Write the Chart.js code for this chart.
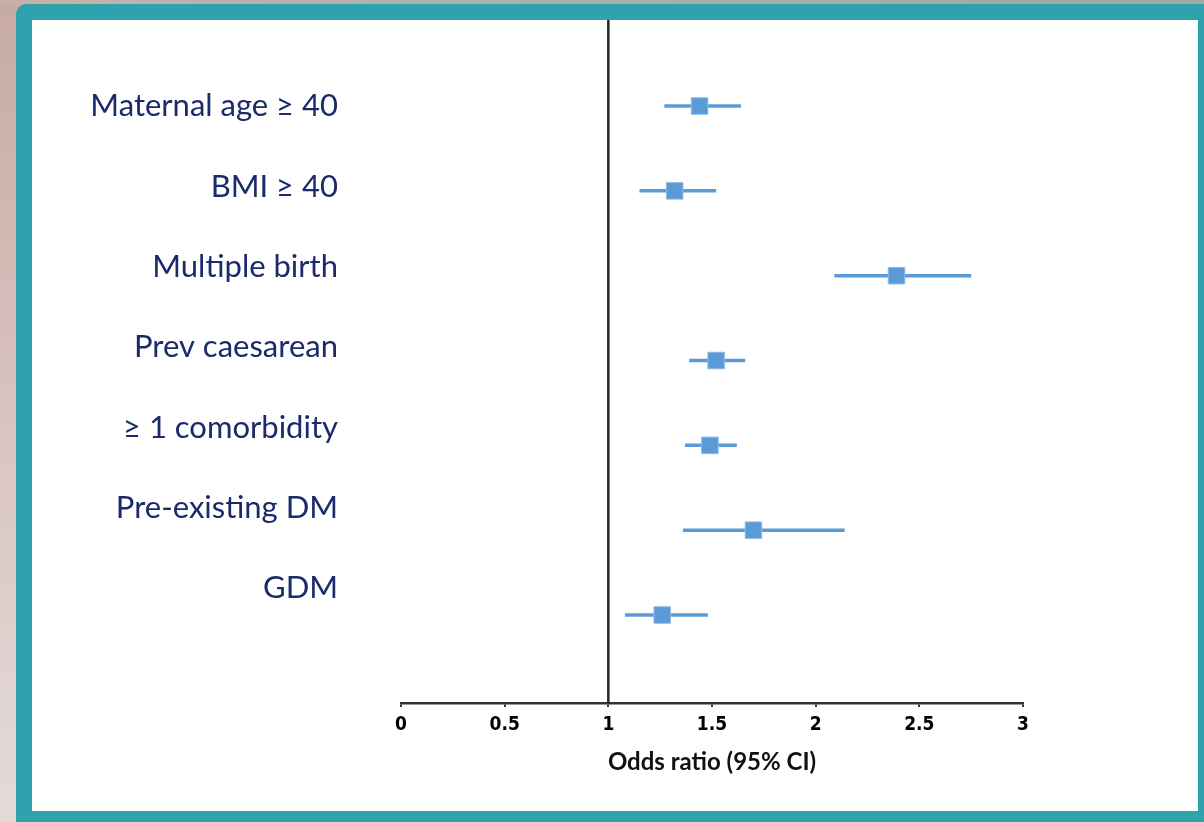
<!DOCTYPE html>
<html>
<head>
<meta charset="utf-8">
<title>Odds ratio forest plot</title>
<script src="https://cdn.jsdelivr.net/npm/chart.js@4.4.1/dist/chart.umd.min.js"></script>
<style>
  html, body { margin: 0; padding: 0; }
  body {
    width: 1204px; height: 822px; overflow: hidden; position: relative;
    background: linear-gradient(to bottom, #c7aaa4 0%, #d9c3bf 50%, #e3dbd9 100%);
  }
  .top-strip { position: absolute; left: 0; top: 0; width: 1204px; height: 6px;
    background: linear-gradient(to right, #c9b0aa, #a9b3a8 40%, #9fa99f); }
  .frame { position: absolute; left: 16px; top: 4px; width: 1210px; height: 840px;
    background: #30a2ad; border-top-left-radius: 10px; }
  .panel { position: absolute; left: 32px; top: 20px; width: 1166px; height: 791px; background: #fff; }
  canvas { display: block; }
</style>
</head>
<body>
<div class="top-strip"></div>
<div class="frame"></div>
<div class="panel"><canvas id="forest" width="1166" height="791"></canvas></div>
<script>
var categories = ['Maternal age ≥ 40', 'BMI ≥ 40', 'Multiple birth', 'Prev caesarean',
                  '≥ 1 comorbidity', 'Pre-existing DM', 'GDM'];
var oddsRatio = [1.44, 1.32, 2.39, 1.52, 1.49, 1.70, 1.26];
var ciLower   = [1.27, 1.15, 2.09, 1.39, 1.37, 1.36, 1.08];
var ciUpper   = [1.64, 1.52, 2.75, 1.66, 1.62, 2.14, 1.48];
var xTicks = [0, 0.5, 1, 1.5, 2, 2.5, 3];
var referenceOR = 1;

var blue = '#5b9bd5';
var rowMin = -1.014, rowMax = 7.037;   // row axis range (rows 0..6 plus margins)

// squares first so they sit on top of the CI lines
var datasets = [{
  data: oddsRatio.map(function (v, i) { return { x: v, y: i }; }),
  pointStyle: 'rect',
  pointRadius: 11.7,
  backgroundColor: blue,
  borderColor: '#8fbbe5',
  borderWidth: 1
}];

categories.forEach(function (c, i) {
  datasets.push({
    data: [{ x: ciLower[i], y: i }, { x: ciUpper[i], y: i }],
    showLine: true,
    borderColor: blue,
    borderWidth: 3.5,
    pointRadius: 0
  });
});

datasets.push({
  data: [{ x: referenceOR, y: rowMin }, { x: referenceOR, y: rowMax }],
  showLine: true,
  borderColor: '#262626',
  borderWidth: 2.5,
  pointRadius: 0
});

var ctx = document.getElementById('forest');
new Chart(ctx, {
  type: 'scatter',
  data: { datasets: datasets },
  options: {
    responsive: false,
    animation: false,
    layout: { autoPadding: false, padding: { left: 0, right: 175, top: 0, bottom: 0 } },
    plugins: { legend: { display: false }, tooltip: { enabled: false } },
    scales: {
      x: {
        type: 'linear',
        position: 'bottom',
        min: 0,
        max: 3,
        afterBuildTicks: function (s) { s.ticks = xTicks.map(function (v) { return { value: v }; }); },
        afterFit: function (s) { s.height = 108; },
        ticks: {
          color: '#000',
          padding: 7,
          font: { family: "'Liberation Sans Narrow', 'Arial Narrow', 'DejaVu Sans Condensed', sans-serif", size: 19, weight: 'bold' },
          callback: function (v) { return String(v); }
        },
        grid: { drawOnChartArea: false, drawTicks: true, tickLength: 4, color: '#333', lineWidth: 2 },
        border: { display: true, color: '#333', width: 2.5 },
        title: {
          display: true,
          text: 'Odds ratio (95% CI)',
          color: '#111',
          padding: { top: 0, bottom: 34 },
          font: { family: 'Lato, "Open Sans", sans-serif', size: 24, weight: 'bold' }
        }
      },
      y: {
        type: 'linear',
        display: false,
        reverse: true,
        min: rowMin,
        max: rowMax
      },
      yLab: {
        type: 'linear',
        position: 'left',
        reverse: true,
        min: -1.074,
        max: 7.426,
        afterBuildTicks: function (s) { s.ticks = categories.map(function (c, i) { return { value: i }; }); },
        afterFit: function (s) { s.width = 369; s.paddingTop = 0; s.paddingBottom = 0; },
        grid: { display: false, drawTicks: false },
        border: { display: false },
        ticks: {
          padding: 63,
          color: '#1a2a6a',
          font: { family: 'Lato, "Open Sans", sans-serif', size: 31 },
          callback: function (v) { return categories[v]; }
        }
      }
    }
  }
});
</script>
</body>
</html>
